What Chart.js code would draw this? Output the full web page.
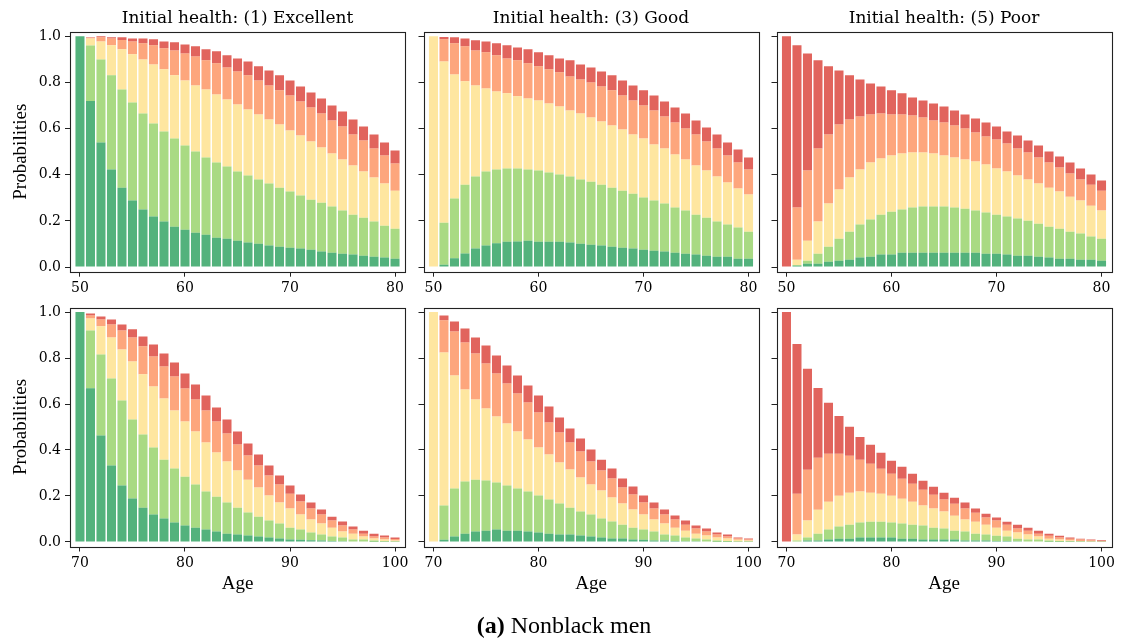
<!DOCTYPE html>
<html>
<head>
<meta charset="utf-8">
<script src="https://cdn.jsdelivr.net/npm/chart.js@4.4.1/dist/chart.umd.min.js"></script>
<style>
  html, body { margin: 0; padding: 0; background: #fff; width: 1121px; height: 641px; overflow: hidden; position: relative; }
  canvas { position: absolute; }
  #caption { position: absolute; left: 414px; width: 300px; top: 613px; text-align: center;
             font-family: 'Liberation Serif', serif; font-size: 24px; line-height: 24px; color: #000; }
</style>
</head>
<body>
<canvas id="p50Exc" width="425" height="302" style="left:0px;top:0px"></canvas>
<canvas id="p50Good" width="365" height="302" style="left:413px;top:0px"></canvas>
<canvas id="p50Poor" width="355" height="302" style="left:766px;top:0px"></canvas>
<canvas id="p70Exc" width="425" height="303" style="left:0px;top:294px"></canvas>
<canvas id="p70Good" width="365" height="303" style="left:413px;top:294px"></canvas>
<canvas id="p70Poor" width="355" height="303" style="left:766px;top:294px"></canvas>
<div id="caption"><b>(a)</b> Nonblack men</div>
<script>
// Ages on the horizontal axis
const ages50to80 = [50,51,52,53,54,55,56,57,58,59,60,61,62,63,64,65,66,67,68,69,70,71,72,73,74,75,76,77,78,79,80];
const ages70to100 = [70,71,72,73,74,75,76,77,78,79,80,81,82,83,84,85,86,87,88,89,90,91,92,93,94,95,96,97,98,99,100];
const healthStates = ['Excellent', 'Very good', 'Good', 'Fair', 'Poor'];
const stateColors = ['rgba(26,152,80,0.75)', 'rgba(145,207,96,0.78)', 'rgba(254,224,139,0.82)', 'rgba(252,141,89,0.78)', 'rgba(215,48,39,0.75)'];
const yTicks = [0, 0.2, 0.4, 0.6, 0.8, 1.0];
const xTicksFrom50 = [50, 60, 70, 80];
const xTicksFrom70 = [70, 80, 90, 100];
const panelTitles = ['Initial health: (1) Excellent', 'Initial health: (3) Good', 'Initial health: (5) Poor'];

// Start at 50, initial health Excellent
const p50Exc_E  = [1.000,.720,.540,.423,.344,.288,.249,.219,.197,.175,.162,.149,.140,.127,.123,.114,.106,.101,.093,.088,.084,.080,.075,.067,.062,.058,.054,.049,.045,.041,.036];
const p50Exc_VG = [0,.240,.360,.408,.426,.425,.417,.403,.391,.382,.365,.352,.335,.326,.313,.300,.291,.278,.269,.256,.243,.230,.217,.212,.200,.187,.173,.165,.152,.138,.130];
const p50Exc_G  = [0,.030,.078,.130,.174,.209,.234,.256,.269,.274,.282,.286,.295,.295,.290,.291,.286,.282,.278,.274,.265,.260,.252,.239,.230,.221,.213,.200,.191,.183,.165];
const p50Exc_F  = [0,.004,.018,.030,.040,.056,.070,.083,.091,.108,.117,.126,.126,.135,.139,.143,.148,.148,.147,.148,.152,.148,.148,.148,.143,.143,.135,.134,.126,.121,.118];
const p50Exc_P  = [0,.002,.004,.005,.012,.013,.021,.026,.030,.035,.039,.044,.048,.052,.053,.056,.060,.061,.065,.065,.065,.065,.065,.065,.065,.065,.065,.061,.061,.057,.056];

// Start at 50, initial health Good
const p50Good_E  = [0,.010,.038,.059,.081,.094,.103,.110,.111,.114,.110,.110,.110,.106,.101,.097,.093,.088,.084,.080,.075,.071,.067,.062,.058,.054,.049,.045,.045,.036,.036];
const p50Good_VG = [0,.182,.259,.298,.311,.320,.320,.317,.316,.309,.308,.300,.291,.286,.278,.273,.264,.256,.247,.238,.226,.217,.208,.196,.187,.173,.165,.152,.139,.135,.117];
const p50Good_G  = [1.000,.699,.538,.448,.395,.360,.338,.326,.313,.308,.304,.299,.295,.287,.287,.278,.274,.270,.265,.257,.256,.243,.239,.230,.221,.213,.204,.195,.182,.169,.161];
const p50Good_F  = [0,.096,.135,.152,.152,.157,.157,.151,.156,.152,.148,.148,.148,.147,.147,.152,.152,.152,.148,.147,.143,.148,.139,.139,.135,.135,.126,.122,.117,.113,.109];
const p50Good_P  = [0,.010,.026,.034,.044,.047,.052,.057,.056,.061,.061,.061,.060,.070,.065,.065,.065,.065,.065,.065,.066,.065,.065,.065,.065,.060,.061,.061,.057,.056,.052];

// Start at 50, initial health Poor
const p50Poor_E  = [0,.006,.014,.014,.023,.027,.032,.041,.045,.054,.054,.062,.062,.062,.062,.062,.062,.062,.062,.058,.058,.054,.049,.049,.045,.041,.036,.036,.032,.032,.027];
const p50Poor_VG = [0,.003,.013,.044,.065,.096,.121,.143,.161,.173,.186,.187,.196,.200,.200,.200,.196,.191,.183,.178,.169,.165,.161,.152,.143,.134,.130,.117,.113,.100,.096];
const p50Poor_G  = [0,.023,.087,.139,.187,.213,.235,.239,.247,.243,.243,.243,.238,.234,.230,.221,.217,.213,.212,.208,.200,.195,.187,.178,.174,.169,.161,.152,.143,.134,.122];
const p50Poor_F  = [0,.226,.304,.317,.300,.282,.252,.230,.208,.196,.178,.169,.161,.152,.143,.144,.139,.135,.126,.122,.126,.121,.117,.117,.113,.109,.104,.100,.091,.091,.086];
const p50Poor_P  = [1.000,.703,.508,.382,.295,.234,.191,.160,.135,.117,.105,.092,.078,.074,.074,.069,.065,.060,.061,.061,.056,.053,.056,.052,.052,.048,.048,.048,.048,.044,.044];

// Start at 70, initial health Excellent
const p70Exc_E  = [1.000,.669,.463,.332,.245,.189,.149,.119,.102,.084,.071,.062,.054,.045,.036,.032,.028,.023,.019,.015,.010,.009,.007,.006,.004,.003,.002,.002,.001,.001,.0005];
const p70Exc_VG = [0,.251,.353,.379,.370,.344,.318,.292,.256,.235,.213,.188,.165,.152,.135,.117,.100,.087,.074,.065,.052,.045,.034,.026,.019,.016,.008,.008,.005,.002,.0015];
const p70Exc_G  = [0,.052,.122,.179,.222,.252,.262,.265,.266,.253,.240,.230,.214,.192,.179,.162,.143,.127,.109,.091,.083,.065,.056,.048,.039,.026,.026,.013,.009,.007,.004];
const p70Exc_F  = [0,.013,.030,.056,.083,.105,.122,.131,.139,.148,.144,.140,.139,.135,.122,.113,.105,.095,.087,.079,.065,.057,.048,.039,.031,.026,.018,.013,.008,.009,.007];
const p70Exc_P  = [0,.009,.013,.022,.026,.035,.043,.052,.057,.061,.065,.065,.065,.061,.061,.056,.052,.048,.043,.039,.035,.030,.026,.022,.017,.018,.013,.013,.013,.009,.006];

// Start at 70, initial health Good
const p70Good_E  = [0,.009,.023,.036,.045,.049,.054,.049,.049,.045,.041,.036,.032,.032,.028,.023,.019,.015,.015,.010,.009,.006,.006,.004,.003,.003,.002,.001,.001,.0005,.0005];
const p70Good_VG = [0,.149,.209,.227,.226,.218,.204,.196,.183,.174,.161,.148,.135,.117,.104,.096,.083,.074,.060,.052,.045,.039,.026,.024,.016,.012,.008,.005,.003,.0015,.001];
const p70Good_G  = [1.000,.666,.492,.400,.349,.314,.288,.270,.248,.227,.209,.196,.178,.166,.148,.131,.122,.104,.092,.079,.065,.052,.048,.034,.030,.021,.018,.013,.011,.007,.0045];
const p70Good_F  = [0,.140,.192,.205,.200,.195,.187,.174,.166,.161,.152,.140,.131,.118,.113,.100,.087,.083,.070,.065,.052,.048,.039,.035,.026,.022,.017,.013,.008,.006,.004];
const p70Good_P  = [0,.021,.043,.061,.070,.079,.078,.079,.078,.074,.074,.069,.065,.060,.057,.052,.047,.043,.039,.035,.031,.026,.022,.018,.018,.013,.013,.009,.009,.004,.005];

// Start at 70, initial health Poor
const p70Poor_E  = [0,.002,.006,.006,.010,.014,.014,.019,.019,.019,.019,.014,.014,.010,.010,.010,.010,.006,.006,.006,.004,.004,.003,.002,.002,.001,.001,.0005,.0005,.0003,.0002];
const p70Poor_VG = [0,.004,.013,.030,.044,.053,.061,.065,.069,.069,.065,.066,.061,.061,.052,.048,.039,.039,.030,.026,.023,.019,.011,.008,.008,.005,.003,.002,.001,.0007,.0005];
const p70Poor_G  = [0,.026,.074,.104,.121,.134,.139,.135,.126,.122,.117,.108,.100,.087,.083,.074,.065,.052,.052,.043,.035,.026,.027,.022,.013,.008,.006,.0035,.0025,.002,.0013];
const p70Poor_F  = [0,.178,.221,.226,.209,.183,.161,.138,.126,.108,.096,.087,.078,.069,.060,.052,.052,.048,.039,.031,.031,.026,.017,.017,.013,.013,.009,.008,.006,.004,.002];
const p70Poor_P  = [1.000,.651,.439,.304,.221,.164,.126,.100,.083,.070,.056,.052,.044,.039,.035,.030,.026,.026,.018,.017,.013,.013,.017,.013,.013,.009,.008,.005,.004,.003,.003];

const TICK_FONT = { family: 'DejaVu Serif', size: 14 };
const LABEL_FONT = { family: 'Liberation Serif', size: 19 };
const SPINE = '#222';

// Box around each plotting area (all four spines)
const framePlugin = {
  id: 'frame',
  afterDraw(chart) {
    const a = chart.chartArea, ctx = chart.ctx;
    const l = Math.round(a.left) + 0.5, t = Math.round(a.top) + 0.5;
    const r = Math.round(a.right) + 0.5, b = Math.round(a.bottom) + 0.5;
    ctx.save();
    ctx.strokeStyle = SPINE;
    ctx.lineWidth = 1.1;
    ctx.strokeRect(l, t, r - l, b - t);
    ctx.restore();
  }
};

function makePanel(id, ages, series, opt) {
  const datasets = series.map((vals, i) => ({
    label: healthStates[i],
    data: ages.map((a, j) => ({ x: a, y: vals[j] })),
    backgroundColor: stateColors[i],
    borderWidth: 0,
    categoryPercentage: 1.0,
    barPercentage: 0.86
  }));
  new Chart(document.getElementById(id), {
    type: 'bar',
    data: { datasets },
    plugins: [framePlugin],
    options: {
      responsive: false,
      animation: false,
      devicePixelRatio: 1,
      layout: { padding: opt.padding },
      plugins: {
        legend: { display: false },
        tooltip: { enabled: false },
        title: opt.title ? {
          display: true, text: opt.title, fullSize: false,
          color: '#000', font: { family: 'DejaVu Serif', size: 17, weight: 'normal' },
          padding: { top: 8.6, bottom: 2.7 }
        } : { display: false }
      },
      scales: {
        x: {
          type: 'linear', stacked: true, offset: false,
          min: opt.xMin, max: opt.xMax,
          afterBuildTicks: s => { s.ticks = opt.xTicks.map(v => ({ value: v })); },
          afterFit: s => { s.height = opt.xHeight; },
          ticks: { color: '#000', font: TICK_FONT, padding: 3, autoSkip: false, maxRotation: 0, callback: v => String(v) },
          grid: { display: true, drawOnChartArea: false, drawTicks: true, tickLength: 5, color: SPINE, offset: false },
          border: { display: false },
          title: opt.xTitle ? { display: true, text: opt.xTitle, color: '#000', font: LABEL_FONT, padding: { top: 0, bottom: 1.4 } } : { display: false }
        },
        y: {
          stacked: true, min: -0.02, max: 1.02,
          afterBuildTicks: s => { s.ticks = yTicks.map(v => ({ value: v })); },
          afterFit: s => { s.width = opt.yWidth; },
          ticks: { display: opt.yLabels, color: '#000', font: TICK_FONT, padding: 4, callback: v => Number(v).toFixed(1) },
          grid: { display: true, drawOnChartArea: false, drawTicks: true, tickLength: 5, color: SPINE },
          border: { display: false },
          title: opt.yLabels ? { display: true, text: 'Probabilities', color: '#000', font: LABEL_FONT, padding: { top: 9.4, bottom: 0 } } : { display: false }
        }
      }
    }
  });
}

const topRow = { xMin: 49.05, xMax: 80.95, xTicks: xTicksFrom50, xHeight: 30 };
const bottomRow = { xMin: 69.05, xMax: 100.95, xTicks: xTicksFrom70, xHeight: 50, xTitle: 'Age' };

makePanel('p50Exc', ages50to80, [p50Exc_E, p50Exc_VG, p50Exc_G, p50Exc_F, p50Exc_P],
  Object.assign({}, topRow, { title: panelTitles[0], yWidth: 70, yLabels: true, padding: { top: 0, right: 20, bottom: 0.3, left: 0 } }));
makePanel('p50Good', ages50to80, [p50Good_E, p50Good_VG, p50Good_G, p50Good_F, p50Good_P],
  Object.assign({}, topRow, { title: panelTitles[1], yWidth: 10.5, yLabels: false, padding: { top: 0, right: 19.5, bottom: 0.3, left: 0 } }));
makePanel('p50Poor', ages50to80, [p50Poor_E, p50Poor_VG, p50Poor_G, p50Poor_F, p50Poor_P],
  Object.assign({}, topRow, { title: panelTitles[2], yWidth: 10.5, yLabels: false, padding: { top: 0, right: 9.5, bottom: 0.3, left: 0 } }));
makePanel('p70Exc', ages70to100, [p70Exc_E, p70Exc_VG, p70Exc_G, p70Exc_F, p70Exc_P],
  Object.assign({}, bottomRow, { yWidth: 70, yLabels: true, padding: { top: 13.5, right: 20, bottom: 0.5, left: 0 } }));
makePanel('p70Good', ages70to100, [p70Good_E, p70Good_VG, p70Good_G, p70Good_F, p70Good_P],
  Object.assign({}, bottomRow, { yWidth: 10.5, yLabels: false, padding: { top: 13.5, right: 19.5, bottom: 0.5, left: 0 } }));
makePanel('p70Poor', ages70to100, [p70Poor_E, p70Poor_VG, p70Poor_G, p70Poor_F, p70Poor_P],
  Object.assign({}, bottomRow, { yWidth: 10.5, yLabels: false, padding: { top: 13.5, right: 9.5, bottom: 0.5, left: 0 } }));
</script>
</body>
</html>
